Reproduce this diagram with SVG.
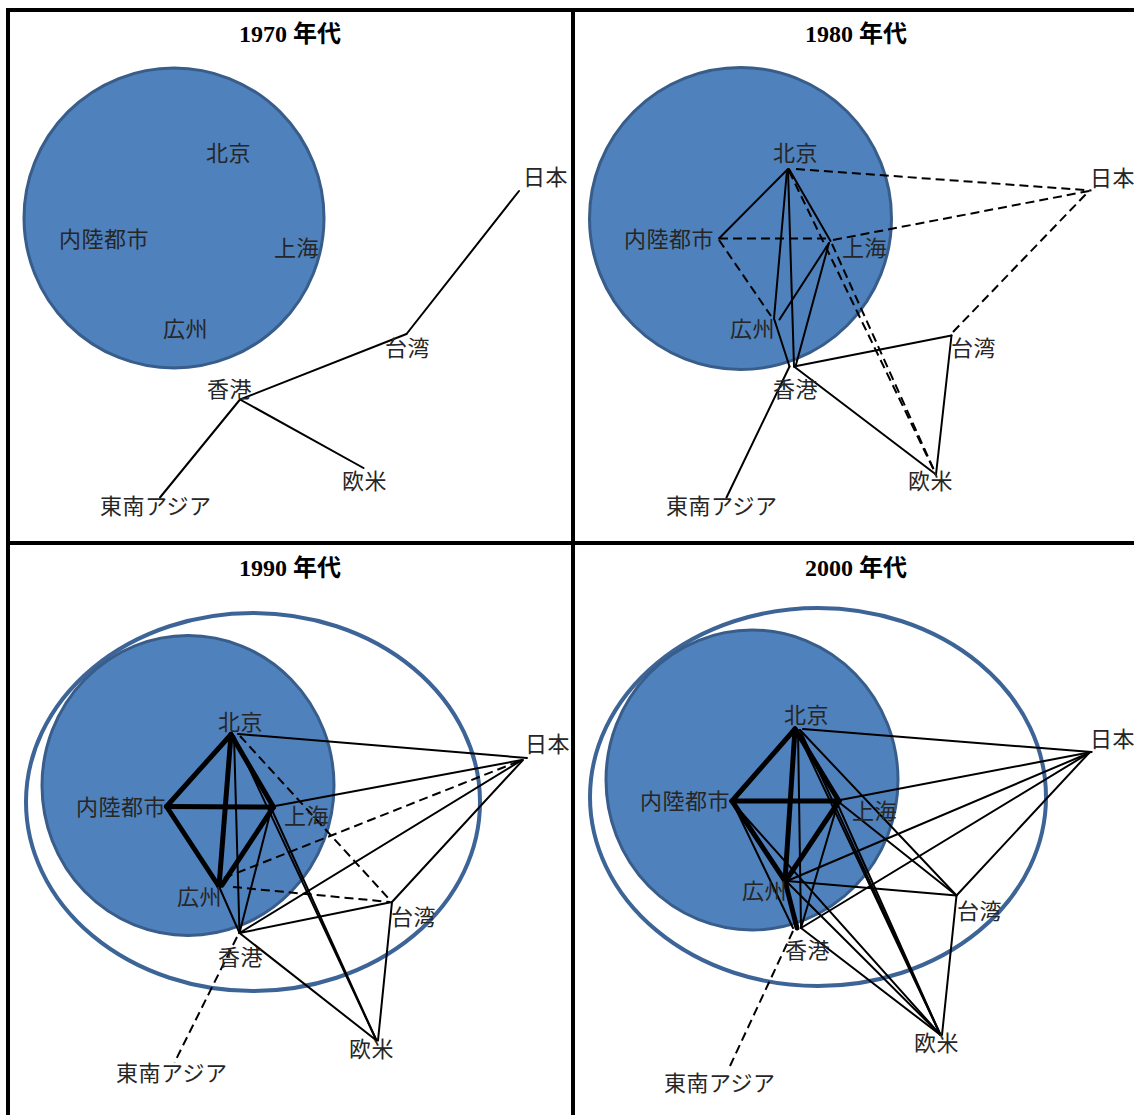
<svg xmlns="http://www.w3.org/2000/svg" width="1134" height="1115" viewBox="0 0 1134 1115">
<style>
.bd{stroke:#000;stroke-width:4;fill:none}
.ci{fill:#4F81BD;stroke:#385D8A;stroke-width:3}
.ov{fill:none;stroke:#3D6496;stroke-width:4}
.l{stroke:#000;stroke-width:2;fill:none;stroke-linecap:round}
.t{stroke:#000;stroke-width:5;fill:none;stroke-linecap:round}
.d{stroke:#000;stroke-width:2;fill:none;stroke-dasharray:9 5}
.lab{font-family:"Noto Sans CJK JP",sans-serif;font-size:22px;fill:#262626;letter-spacing:0.5px}
.ttl{font-family:"Liberation Serif","Noto Sans CJK JP",serif;font-size:24px;font-weight:bold;fill:#000;text-anchor:middle}
</style>
<rect width="1134" height="1115" fill="#fff"/>
<g id="frame">
<line class="bd" x1="6" y1="10" x2="1134" y2="10"/>
<line class="bd" x1="8" y1="8" x2="8" y2="1115"/>
<line class="bd" x1="573" y1="8" x2="573" y2="1115"/>
<line class="bd" x1="8" y1="543" x2="1134" y2="543"/>
</g>

<!-- Panel 1970 -->
<g id="panel-1970">
<text class="ttl" x="290" y="42">1970 年代</text>
<g id="p1-region"><circle class="ci" cx="174" cy="218" r="150"/></g>
<g id="p1-connectors">
<line class="l" x1="519" y1="191" x2="406.5" y2="334"/>
<line class="l" x1="406.5" y1="334" x2="240" y2="399.5"/>
<line class="l" x1="240" y1="399.5" x2="160" y2="497.5"/>
<line class="l" x1="240" y1="399.5" x2="363.5" y2="468"/>
</g>
<g id="p1-beijing"><text class="lab" x="206" y="161">北京</text></g>
<g id="p1-inland"><text class="lab" x="59" y="247">内陸都市</text></g>
<g id="p1-shanghai"><text class="lab" x="274" y="256">上海</text></g>
<g id="p1-guangzhou"><text class="lab" x="163" y="337">広州</text></g>
<g id="p1-japan"><text class="lab" x="523" y="185">日本</text></g>
<g id="p1-taiwan"><text class="lab" x="385" y="356">台湾</text></g>
<g id="p1-hongkong"><text class="lab" x="207" y="397">香港</text></g>
<g id="p1-west"><text class="lab" x="342" y="489">欧米</text></g>
<g id="p1-sea"><text class="lab" x="100" y="514">東南アジア</text></g>
</g>

<!-- Panel 1980 -->
<g id="panel-1980">
<text class="ttl" x="856" y="42">1980 年代</text>
<g id="p2-region"><circle class="ci" cx="740.5" cy="218.5" r="151"/></g>
<g id="p2-connectors">
<line class="l" x1="788" y1="169" x2="719" y2="238.5"/>
<line class="l" x1="789" y1="169" x2="830.5" y2="241"/>
<line class="l" x1="787" y1="170" x2="774" y2="318.5"/>
<line class="l" x1="788" y1="170" x2="794" y2="366.5"/>
<line class="l" x1="774" y1="318.5" x2="789.5" y2="366.5"/>
<line class="l" x1="829" y1="243" x2="779.5" y2="319.5"/>
<line class="l" x1="829" y1="243" x2="795.5" y2="366.5"/>
<line class="l" x1="794" y1="366.5" x2="951.5" y2="335.5"/>
<line class="l" x1="789.5" y1="366.5" x2="726.5" y2="497.5"/>
<line class="l" x1="794" y1="366.5" x2="936" y2="474.5"/>
<line class="l" x1="951.5" y1="335.5" x2="936" y2="474.5"/>
<line class="d" x1="796" y1="169" x2="1091.5" y2="190.5"/>
<line class="d" x1="833" y1="240" x2="1091.5" y2="190.5"/>
<line class="d" x1="953" y1="332" x2="1087" y2="193"/>
<line class="d" x1="719" y1="238.5" x2="829" y2="238.5"/>
<line class="d" x1="719" y1="240" x2="771" y2="316"/>
<line class="d" x1="789" y1="171" x2="936" y2="474.5"/>
<line class="d" x1="832" y1="244" x2="936" y2="474.5"/>
</g>
<g id="p2-beijing"><text class="lab" x="773" y="161">北京</text></g>
<g id="p2-inland"><text class="lab" x="624" y="247">内陸都市</text></g>
<g id="p2-shanghai"><text class="lab" x="842" y="256">上海</text></g>
<g id="p2-guangzhou"><text class="lab" x="730" y="337">広州</text></g>
<g id="p2-japan"><text class="lab" x="1090" y="186">日本</text></g>
<g id="p2-taiwan"><text class="lab" x="951" y="356">台湾</text></g>
<g id="p2-hongkong"><text class="lab" x="773" y="397">香港</text></g>
<g id="p2-west"><text class="lab" x="908" y="489">欧米</text></g>
<g id="p2-sea"><text class="lab" x="666" y="514">東南アジア</text></g>
</g>

<!-- Panel 1990 -->
<g id="panel-1990">
<text class="ttl" x="290" y="576">1990 年代</text>
<g id="p3-region-outer"><ellipse class="ov" cx="253" cy="802" rx="227" ry="189"/></g>
<g id="p3-region"><ellipse class="ci" cx="188" cy="785.5" rx="146" ry="150"/></g>
<g id="p3-connectors">
<line class="t" x1="231" y1="734.5" x2="166.5" y2="806.5"/>
<line class="t" x1="231" y1="734.5" x2="273.5" y2="807"/>
<line class="t" x1="166.5" y1="806.5" x2="273.5" y2="807"/>
<line class="t" x1="166.5" y1="806.5" x2="219" y2="886.5"/>
<line class="t" x1="231" y1="734.5" x2="219" y2="886.5"/>
<line class="t" x1="273.5" y1="807" x2="222" y2="885"/>
<line class="l" x1="234" y1="736" x2="239.5" y2="933"/>
<line class="l" x1="238" y1="734" x2="527" y2="758"/>
<line class="l" x1="234" y1="736" x2="376.5" y2="1040.5"/>
<line class="l" x1="275" y1="806" x2="522" y2="760"/>
<line class="l" x1="271" y1="810" x2="239.5" y2="933"/>
<line class="l" x1="272" y1="810" x2="376.5" y2="1040.5"/>
<line class="l" x1="239.5" y1="933" x2="522" y2="760"/>
<line class="l" x1="239.5" y1="933" x2="392" y2="902"/>
<line class="l" x1="239.5" y1="933" x2="376.5" y2="1040.5"/>
<line class="l" x1="392" y1="902" x2="523" y2="760"/>
<line class="l" x1="392" y1="902" x2="378" y2="1040.5"/>
<line class="l" x1="219" y1="886.5" x2="239.5" y2="933"/>
<line class="d" x1="240" y1="736" x2="390" y2="900"/>
<line class="d" x1="224" y1="878" x2="522" y2="760"/>
<line class="d" x1="233" y1="887" x2="390" y2="902"/>
<line class="d" x1="237" y1="937" x2="174.5" y2="1062.5"/>
</g>
<g id="p3-beijing"><text class="lab" x="218" y="730">北京</text></g>
<g id="p3-inland"><text class="lab" x="76" y="815">内陸都市</text></g>
<g id="p3-shanghai"><text class="lab" x="284" y="824">上海</text></g>
<g id="p3-guangzhou"><text class="lab" x="177" y="905">広州</text></g>
<g id="p3-japan"><text class="lab" x="525" y="752">日本</text></g>
<g id="p3-taiwan"><text class="lab" x="391" y="925">台湾</text></g>
<g id="p3-hongkong"><text class="lab" x="218" y="965">香港</text></g>
<g id="p3-west"><text class="lab" x="349" y="1057">欧米</text></g>
<g id="p3-sea"><text class="lab" x="116" y="1081">東南アジア</text></g>
</g>

<!-- Panel 2000 -->
<g id="panel-2000">
<text class="ttl" x="856" y="576">2000 年代</text>
<g id="p4-region-outer"><ellipse class="ov" cx="818" cy="797" rx="228" ry="189"/></g>
<g id="p4-region"><ellipse class="ci" cx="752" cy="780" rx="146" ry="150"/></g>
<g id="p4-connectors">
<line class="t" x1="795" y1="729" x2="732" y2="801"/>
<line class="t" x1="795" y1="729" x2="839" y2="801"/>
<line class="t" x1="732" y1="801" x2="839" y2="801"/>
<line class="t" x1="795" y1="729" x2="785" y2="881"/>
<line class="t" x1="839" y1="801" x2="787" y2="879"/>
<line class="t" x1="732" y1="801" x2="785" y2="881"/>
<line class="t" x1="785" y1="881" x2="797" y2="928"/>
<line class="l" x1="798" y1="730" x2="801" y2="928"/>
<line class="l" x1="803" y1="729" x2="1091.5" y2="752"/>
<line class="l" x1="800" y1="730" x2="956.5" y2="895.5"/>
<line class="l" x1="797" y1="731" x2="940.5" y2="1035"/>
<line class="l" x1="800" y1="730" x2="940.5" y2="1035"/>
<line class="l" x1="840" y1="800" x2="1091.5" y2="752"/>
<line class="l" x1="840" y1="803" x2="956.5" y2="895.5"/>
<line class="l" x1="837" y1="806" x2="801" y2="928"/>
<line class="l" x1="838" y1="805" x2="940.5" y2="1035"/>
<line class="l" x1="787" y1="881" x2="1089" y2="753"/>
<line class="l" x1="787" y1="881" x2="956.5" y2="895.5"/>
<line class="l" x1="787" y1="882" x2="940.5" y2="1035"/>
<line class="l" x1="801" y1="928" x2="1089" y2="753"/>
<line class="l" x1="801" y1="928" x2="940.5" y2="1035"/>
<line class="l" x1="956.5" y1="895.5" x2="1089" y2="753"/>
<line class="l" x1="956.5" y1="895.5" x2="942" y2="1035"/>
<line class="l" x1="733" y1="803" x2="793" y2="928"/>
<line class="l" x1="733" y1="803" x2="940.5" y2="1035"/>
<line class="d" x1="793" y1="931" x2="730" y2="1066"/>
</g>
<g id="p4-beijing"><text class="lab" x="784" y="723">北京</text></g>
<g id="p4-inland"><text class="lab" x="640" y="809">内陸都市</text></g>
<g id="p4-shanghai"><text class="lab" x="852" y="819">上海</text></g>
<g id="p4-guangzhou"><text class="lab" x="742" y="899">広州</text></g>
<g id="p4-japan"><text class="lab" x="1090" y="747">日本</text></g>
<g id="p4-taiwan"><text class="lab" x="957" y="919">台湾</text></g>
<g id="p4-hongkong"><text class="lab" x="785" y="958">香港</text></g>
<g id="p4-west"><text class="lab" x="914" y="1051">欧米</text></g>
<g id="p4-sea"><text class="lab" x="664" y="1091">東南アジア</text></g>
</g>
</svg>
